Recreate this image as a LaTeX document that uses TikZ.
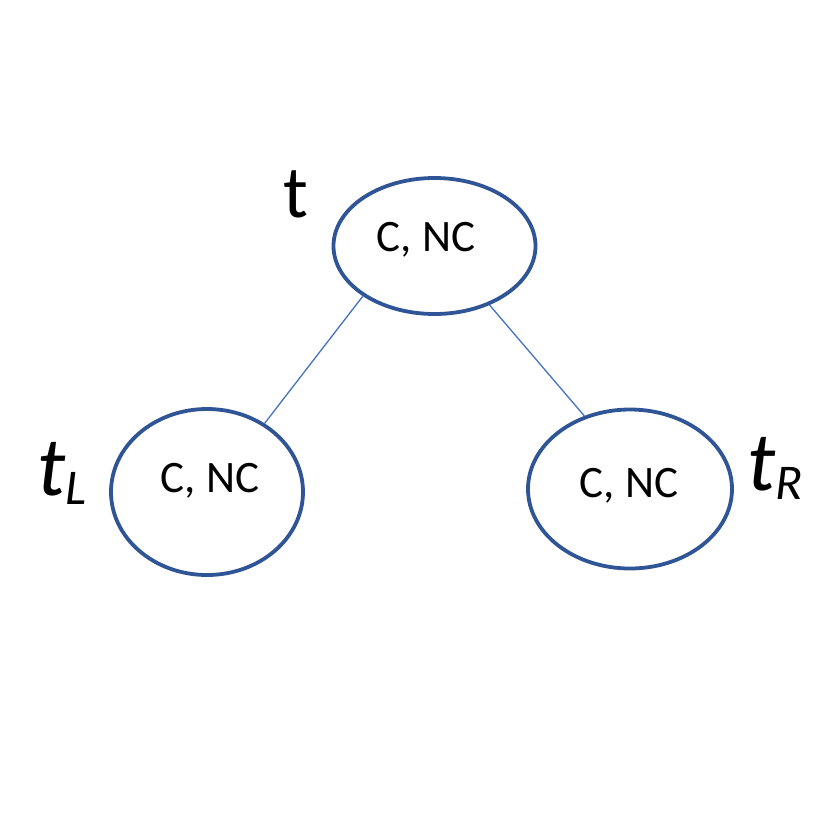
\documentclass[tikz,border=0pt]{standalone}
\usepackage{fontspec}
\setmainfont{Carlito}
\usetikzlibrary{shapes.geometric}
\definecolor{ringblue}{HTML}{2F5597}
\definecolor{edgeblue}{HTML}{4472C4}
\newcommand{\namesub}[2]{{\fontsize{84}{90}\selectfont\itshape #1}{\fontsize{50}{56}\selectfont\itshape\raisebox{-9pt}{#2}}}
\tikzset{
  ring/.style={draw=ringblue, line width=3.8pt, ellipse, inner sep=0pt},
  edgeline/.style={draw=edgeblue, line width=1.3pt},
  inlabel/.style={font=\fontsize{45}{52}\selectfont, inner sep=0pt},
  namelabel/.style={inner sep=0pt}
}
\begin{document}
\begin{tikzpicture}[x=1pt,y=-1pt]
\useasboundingbox (0,0) rectangle (828,828);
\node[ring, minimum width=202pt, minimum height=136pt] (top) at (434.5,246) {};
\node[ring, minimum width=192pt, minimum height=166pt] (left) at (207,492) {};
\node[ring, minimum width=204pt, minimum height=159pt] (right) at (630,489) {};
\node[inlabel] (ttext) at (426,240) {C, NC};
\node[inlabel] (ltext) at (210,481) {C, NC};
\node[inlabel] (rtext) at (629,486) {C, NC};
\node[namelabel, font=\fontsize{74}{80}\selectfont] (tname) at (296,194) {t};
\node[namelabel, anchor=base west] (lname) at (37,495) {\namesub{t}{L}};
\node[namelabel, anchor=base west] (rname) at (747,490) {\namesub{t}{R}};
\draw[edgeline] (top.215.6) -- (left.50.7);
\draw[edgeline] (top.313) -- (right.122.3);
\end{tikzpicture}
\end{document}
